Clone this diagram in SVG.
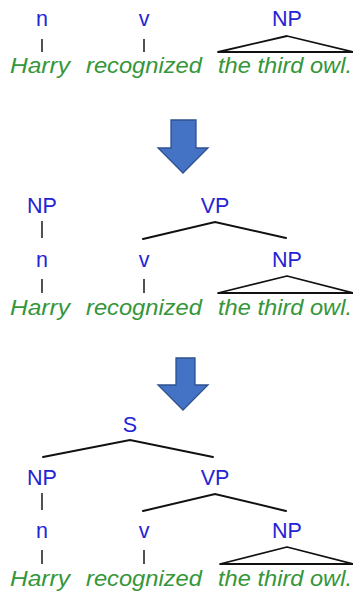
<svg xmlns="http://www.w3.org/2000/svg" width="353" height="594" viewBox="0 0 353 594">
  <style>
    .lab { font-family: "Liberation Sans", Arial, sans-serif; font-size: 21.5px; fill: #2424d4; text-anchor: middle; }
    .word { font-family: "Liberation Sans", Arial, sans-serif; font-size: 22px; font-style: italic; fill: #36963a; }
    .edge { stroke: #111; stroke-width: 2; fill: none; stroke-linecap: round; }
    .tick { stroke: #333; stroke-width: 1.7; fill: none; }
    .tri { stroke: #111; stroke-width: 1.8; fill: none; stroke-linejoin: round; }
    .arrow { fill: #4472c4; stroke: #2f528f; stroke-width: 1.3; }
  </style>
  <rect width="353" height="594" fill="#ffffff"/>

  <!-- Stage 1: word categories -->
  <g id="stage1">
    <g id="s1-n"><text class="lab" x="42" y="26">n</text></g>
    <g id="s1-v"><text class="lab" x="144" y="26">v</text></g>
    <g id="s1-np"><text class="lab" x="287" y="26">NP</text></g>
    <g id="s1-words">
      <text class="word" x="10" y="73" textLength="60" lengthAdjust="spacingAndGlyphs">Harry</text>
      <text class="word" x="86" y="73" textLength="116" lengthAdjust="spacingAndGlyphs">recognized</text>
      <text class="word" x="218" y="73" textLength="134" lengthAdjust="spacingAndGlyphs">the third owl.</text>
    </g>
    <g id="s1-links">
      <line class="tick" x1="42" y1="39" x2="42" y2="52"/>
      <line class="tick" x1="144" y1="39" x2="144" y2="52"/>
      <polygon class="tri" points="287,36 218,52 353,52"/>
    </g>
  </g>

  <g id="arrow1"><polygon class="arrow" points="171,120 196,120 196,148 208,148 183,173 158,148 171,148"/></g>

  <!-- Stage 2: NP and VP -->
  <g id="stage2">
    <g id="s2-np-top"><text class="lab" x="42" y="213">NP</text></g>
    <g id="s2-vp"><text class="lab" x="215" y="213">VP</text></g>
    <g id="s2-n"><text class="lab" x="42" y="267">n</text></g>
    <g id="s2-v"><text class="lab" x="144" y="267">v</text></g>
    <g id="s2-np"><text class="lab" x="287" y="267">NP</text></g>
    <g id="s2-words">
      <text class="word" x="10" y="315" textLength="60" lengthAdjust="spacingAndGlyphs">Harry</text>
      <text class="word" x="86" y="315" textLength="116" lengthAdjust="spacingAndGlyphs">recognized</text>
      <text class="word" x="218" y="315" textLength="134" lengthAdjust="spacingAndGlyphs">the third owl.</text>
    </g>
    <g id="s2-links">
      <line class="tick" x1="42" y1="221" x2="42" y2="238"/>
      <polyline class="edge" points="143,239 215,222 286,238"/>
      <line class="tick" x1="42" y1="279" x2="42" y2="293"/>
      <line class="tick" x1="144" y1="279" x2="144" y2="293"/>
      <polygon class="tri" points="287,276 218,293 353,293"/>
    </g>
  </g>

  <g id="arrow2"><polygon class="arrow" points="176,358 195,358 195,385 208,385 183,410 158,385 176,385"/></g>

  <!-- Stage 3: full sentence tree -->
  <g id="stage3">
    <g id="s3-s"><text class="lab" x="130" y="432">S</text></g>
    <g id="s3-np-top"><text class="lab" x="42" y="485">NP</text></g>
    <g id="s3-vp"><text class="lab" x="215" y="485">VP</text></g>
    <g id="s3-n"><text class="lab" x="42" y="538">n</text></g>
    <g id="s3-v"><text class="lab" x="144" y="538">v</text></g>
    <g id="s3-np"><text class="lab" x="287" y="538">NP</text></g>
    <g id="s3-words">
      <text class="word" x="10" y="586" textLength="60" lengthAdjust="spacingAndGlyphs">Harry</text>
      <text class="word" x="86" y="586" textLength="116" lengthAdjust="spacingAndGlyphs">recognized</text>
      <text class="word" x="218" y="586" textLength="134" lengthAdjust="spacingAndGlyphs">the third owl.</text>
    </g>
    <g id="s3-links">
      <polyline class="edge" points="43,457 130,440 213,457"/>
      <line class="tick" x1="42" y1="493" x2="42" y2="510"/>
      <polyline class="edge" points="143,511 215,494 286,511"/>
      <line class="tick" x1="42" y1="550" x2="42" y2="564"/>
      <line class="tick" x1="144" y1="550" x2="144" y2="564"/>
      <polygon class="tri" points="287,547 220,564 353,564"/>
    </g>
  </g>
</svg>
